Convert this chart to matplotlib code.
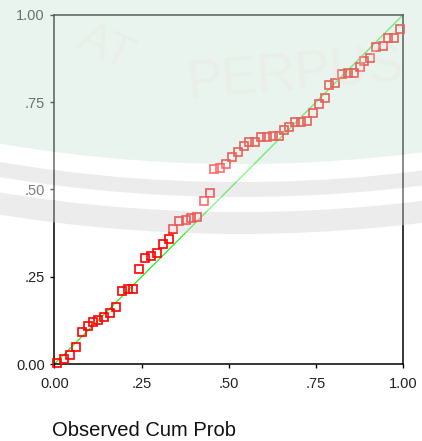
import numpy as np
import matplotlib
matplotlib.use('Agg')
import matplotlib.pyplot as plt
from matplotlib.patches import Wedge, Circle

# P-P plot values (observed vs expected cum prob)
observed = [0.008, 0.026, 0.044, 0.062, 0.079, 0.095, 0.111, 0.126, 0.143, 0.160,
            0.177, 0.195, 0.211, 0.225, 0.242, 0.260, 0.277, 0.294, 0.311, 0.329,
            0.341, 0.358, 0.376, 0.393, 0.410, 0.428, 0.445, 0.458, 0.475, 0.492,
            0.510, 0.527, 0.544, 0.558, 0.575, 0.592, 0.609, 0.626, 0.644, 0.660,
            0.673, 0.691, 0.708, 0.725, 0.743, 0.760, 0.777, 0.789, 0.806, 0.824,
            0.841, 0.859, 0.876, 0.889, 0.906, 0.923, 0.942, 0.958, 0.975, 0.992]
expected = [0.004, 0.013, 0.025, 0.048, 0.091, 0.108, 0.120, 0.126, 0.134, 0.146,
            0.162, 0.210, 0.215, 0.215, 0.271, 0.303, 0.309, 0.317, 0.344, 0.357,
            0.387, 0.409, 0.413, 0.417, 0.421, 0.468, 0.491, 0.559, 0.562, 0.572,
            0.593, 0.607, 0.624, 0.637, 0.637, 0.649, 0.649, 0.654, 0.654, 0.671,
            0.680, 0.692, 0.692, 0.697, 0.718, 0.744, 0.761, 0.799, 0.805, 0.830,
            0.835, 0.835, 0.851, 0.868, 0.877, 0.907, 0.911, 0.933, 0.933, 0.959]
ref_line = [0, 1]
tick_vals = [0, 0.25, 0.5, 0.75, 1.0]
tick_labels = ['0.00', '.25', '.50', '.75', '1.00']

plt.rcParams['font.family'] = ['Liberation Sans', 'DejaVu Sans']

fig = plt.figure(figsize=(4.22, 4.41), dpi=100)
ax = fig.add_axes([0.1291, 0.1746, 0.8258, 0.7914])

ax.plot(ref_line, ref_line, color='#22ee22', lw=0.9, zorder=2)
ax.plot(observed, expected, 's', ms=5.2, mfc='none', mec='#ff0000',
        mew=1.2, clip_on=False, zorder=3)

ax.set_xlim(0, 1)
ax.set_ylim(0, 1)
ax.set_xticks(tick_vals)
ax.set_xticklabels(tick_labels)
ax.set_yticks(tick_vals)
ax.set_yticklabels(tick_labels)
ax.tick_params(direction='out', length=3, width=1, color='black',
               labelsize=10.5, labelcolor='#222222')
ax.tick_params(axis='x', pad=6)
ax.tick_params(axis='y', pad=4)
for s in ax.spines.values():
    s.set_linewidth(1.1)
    s.set_color('black')

fig.text(52 / 422, 1 / 441, 'Observed Cum Prob', fontsize=14.5,
         ha='left', va='bottom', color='#111111')

# library watermark: big tinted seal over the top part of the image
R = 15.0
cx, cy = 2.40, 2.07 + R
rings = [(0.00, 0.22, '#d4d4d4'), (0.22, 0.37, '#ffffff'), (0.37, 0.52, '#d4d4d4'),
         (0.52, 0.70, '#ffffff')]
for inner, outer, col in rings:
    w = Wedge((cx, cy), R - inner, 0, 360, width=outer - inner,
              transform=fig.dpi_scale_trans, facecolor=col, edgecolor='none',
              alpha=0.42, zorder=10)
    fig.add_artist(w)
fig.add_artist(Circle((cx, cy), R - 0.70, transform=fig.dpi_scale_trans,
                      facecolor='#cae5d6', edgecolor='none', alpha=0.42, zorder=10))

fig.text(0.25, 0.89, 'AT', fontsize=34, rotation=-25, color='#f2dede',
         alpha=0.25, ha='center', va='center', zorder=11)
fig.text(0.70, 0.83, 'PERPUS', fontsize=38, rotation=5, color='#f2dede',
         alpha=0.25, ha='center', va='center', zorder=11)

fig.savefig('out.png', dpi=100)
